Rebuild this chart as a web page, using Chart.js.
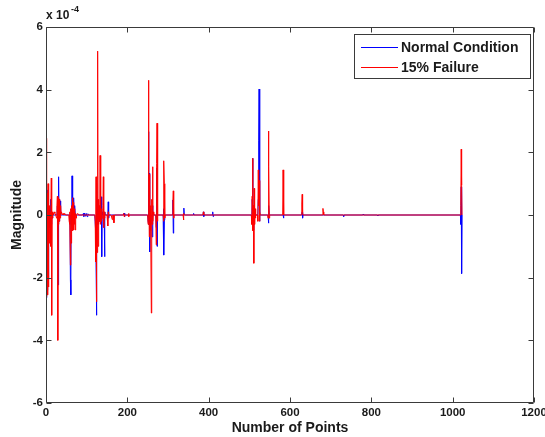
<!DOCTYPE html>
<html>
<head>
<meta charset="utf-8">
<script src="https://cdn.jsdelivr.net/npm/chart.js@4.4.1/dist/chart.umd.min.js"></script>
<style>
  html, body { margin: 0; padding: 0; background: #fff; }
  #wrap { width: 545px; height: 437px; }
</style>
</head>
<body>
<div id="wrap"><canvas id="c" width="545" height="437"></canvas></div>
<script>
// Values in units of 1e-4 (axis multiplier "x 10^-4")
const xTicks = [0, 200, 400, 600, 800, 1000, 1200];
const yTicks = [-6, -4, -2, 0, 2, 4, 6];
const seriesNames = ['Normal Condition', '15% Failure'];
const seriesColors = ['#0000ff', '#ff0000'];

// Normal Condition (blue): sample index / magnitude
const normalX = [0,1,2,3,4,5,6,7,8,9,10,11,12,13,14,15,16,17,
  27,28,29,30,31,32,33,34,35,36,40,
  58,59,60,61,62,63,64,65,66,67,68,69,70,71,72,
  90,92,93,95,97,99,101,103,105,
  120,122,123,124,125,126,127,128,130,131,132,135,136,137,138,139,143,144,145,146,152,153,154,155,
  190,192,193,194,
  250,251,252,253,254,255,256,257,258,260,261,262,263,270,271,272,273,274,
  288,289,290,291,292,311,312,313,314,338,339,340,362,363,364,386,387,388,389,409,410,411,412,
  505,506,507,508,509,510,511,512,521,522,523,524,525,526,546,547,548,549,
  583,584,585,629,630,631,632,731,732,733,779,780,781,815,816,817,
  1019,1020,1021,1022,1023];
const normalY = [-1.85,-2.65,0.5,-2.4,0.8,-2.0,0.3,-0.6,0.2,-0.4,0.1,-0.8,0.5,-0.3,0.1,-0.1,0.05,0,
  0,0.3,-0.5,-2.23,1.22,-0.2,0.5,-0.1,0.45,0,0,
  0,-0.3,-2.07,-2.55,0.2,-0.3,1.25,-0.2,0.55,-0.1,0.55,0,-0.1,0.3,0,
  0,0.05,-0.05,0.06,-0.04,0.05,-0.05,0.04,0,
  0,-0.5,-1.5,-3.2,1.0,-0.3,0.5,0,0,0.2,-0.2,0,0.58,-1.33,0.1,0,0,-1.33,0.1,0,0,0.42,-0.1,0,
  0,0.06,-0.06,0,
  0,-0.2,2.66,-0.3,1.33,-1.18,0.2,-0.3,0,0,-0.7,0.3,0,0,-0.4,1.5,-1.0,0,
  0,0.2,-1.28,-0.16,0,0,0.48,-0.58,0,0,0.22,0,0,0.05,0,0,0.1,-0.05,0,0,0.1,-0.05,0,
  0,-0.2,0.5,1.81,0.16,-0.48,0.3,0,0,0.5,2.39,4.02,-0.2,0,0,-0.26,0.3,0,
  0,-0.1,0,0,0.1,-0.1,0,0,-0.05,0,0,0.03,0,0,-0.03,0,
  0,-0.3,0.9,-1.87,0];

// 15% Failure (red): sample index / magnitude
const failX = [0,1,2,3,4,5,6,7,8,9,10,11,12,13,14,15,16,17,18,20,22,24,26,27,28,29,30,31,32,33,34,35,36,37,38,40,42,44,46,48,
  56,57,58,59,60,61,62,63,64,65,66,67,68,69,70,71,72,73,74,75,78,80,
  120,121,122,123,124,125,126,127,128,129,130,131,132,133,134,135,136,137,138,140,141,142,143,144,145,150,152,153,154,160,163,164,166,167,168,
  190,191,192,193,202,203,204,205,
  250,251,252,253,254,255,256,257,258,259,260,261,262,263,264,265,270,271,272,273,274,275,
  288,289,290,291,292,293,311,312,313,314,315,337,338,339,340,386,387,388,
  505,506,507,508,509,510,511,512,513,514,515,516,520,521,522,523,524,525,526,527,
  545,546,547,548,549,550,582,583,584,585,628,629,630,631,632,680,681,682,683,
  1019,1020,1021,1022,1023];
const failY = [0,2.45,-2.6,0.7,-2.55,1.0,-2.3,0.35,-0.9,0.3,-0.5,0.1,-1.0,1.18,-3.2,0.1,-0.1,0.08,0,0.1,0.05,0,-0.1,0.3,0.6,-4.0,0.55,-0.3,0.5,-0.2,0.4,-0.1,0.3,0.05,0.1,0,0.05,0,0.05,0,
  0,-0.2,0.1,-0.3,-1.6,0.2,-0.9,0.3,-0.4,0.55,-0.5,0.4,-0.48,0.2,-0.3,0.15,-0.48,0.05,-0.1,0,0.05,0,
  0,-0.2,-1.5,1.22,-2.77,0.5,-1.2,5.23,-1.0,0.5,-0.3,0.3,-0.2,1.9,-0.3,0.1,-0.2,0.2,-0.1,0.3,1.22,-0.4,0.1,-0.1,0,0,-0.35,0.1,0,0,-0.15,0,0,-0.25,0,
  0,0.05,-0.05,0,0,0.05,-0.05,0,
  0,-0.3,4.3,1.3,-0.7,1.3,-0.4,0.3,-0.5,-3.13,0.5,-0.3,1.54,-0.2,0.1,0,0,-0.95,1.65,2.93,-0.2,0,
  0,-0.2,1.73,1.0,-0.1,0,0,0.4,0.77,-0.1,0,0,-0.16,0.05,0,0,0.1,0,
  0,-0.3,0.6,1.81,-0.5,0.3,-1.54,0.85,-0.3,0.2,-0.1,0,0,-0.2,1.44,0.3,1.1,-0.2,0.1,0,
  0,-0.1,2.68,1.55,-0.1,0,0,1.44,0.9,0,0,0.35,0.66,0.1,0,0,0.21,0.1,0,
  0,0.3,2.1,0.95,0];

const toPts = (xs, ys) => xs.map((x, i) => ({x: x, y: ys[i]}));

const FONT = "'Liberation Sans', Arial, sans-serif";
const INK = '#1a1a1a';
const AXIS = '#3a3a3a';

const framePlugin = {
  id: 'matlabFrame',
  afterDraw(chart) {
    const {ctx, chartArea: a, scales: {x, y}} = chart;
    ctx.save();
    ctx.strokeStyle = AXIS;
    ctx.lineWidth = 1;
    const L = Math.round(a.left) + 0.5, R = Math.round(a.right) - 0.5;
    const T = Math.round(a.top) + 0.5, B = Math.round(a.bottom) - 0.5;
    ctx.beginPath();
    ctx.rect(L, T, R - L, B - T);
    const tl = 5;
    xTicks.forEach(v => {
      const p = Math.round(x.getPixelForValue(v)) + 0.5;
      ctx.moveTo(p, B); ctx.lineTo(p, B - tl);
      ctx.moveTo(p, T); ctx.lineTo(p, T + tl);
    });
    yTicks.forEach(v => {
      const p = Math.round(y.getPixelForValue(v)) + 0.5;
      ctx.moveTo(L, p); ctx.lineTo(L + tl, p);
      ctx.moveTo(R, p); ctx.lineTo(R - tl, p);
    });
    ctx.stroke();

    // exponent label
    ctx.fillStyle = INK;
    ctx.textBaseline = 'middle';
    ctx.textAlign = 'left';
    ctx.font = 'bold 12px ' + FONT;
    ctx.fillText('x 10', 46, 16);
    ctx.font = 'bold 9px ' + FONT;
    ctx.fillText('-4', 71, 10);

    // legend
    const lx = 354.5, ly = 34.5, lw = 176, lh = 44;
    ctx.fillStyle = '#fff';
    ctx.fillRect(lx, ly, lw, lh);
    ctx.strokeStyle = AXIS;
    ctx.strokeRect(lx, ly, lw, lh);
    const rowY = [47, 67];
    for (let i = 0; i < 2; i++) {
      ctx.fillStyle = seriesColors[i];
      ctx.fillRect(361, rowY[i], 37, 1);
      ctx.fillStyle = INK;
      ctx.font = 'bold 14px ' + FONT;
      ctx.textBaseline = 'middle';
      ctx.textAlign = 'left';
      ctx.fillText(seriesNames[i], 401, rowY[i] + 1);
    }
    ctx.restore();
  }
};

new Chart(document.getElementById('c'), {
  type: 'line',
  data: {
    datasets: [
      { label: seriesNames[1], data: toPts(failX, failY), borderColor: seriesColors[1], borderWidth: 1, pointRadius: 0, tension: 0, fill: false, order: 0 },
      { label: seriesNames[0], data: toPts(normalX, normalY), borderColor: seriesColors[0], borderWidth: 1, pointRadius: 0, tension: 0, fill: false, order: 1 }
    ]
  },
  options: {
    responsive: false,
    animation: false,
    events: [],
    layout: { padding: { top: 27, right: 11, left: 0, bottom: 0 } },
    plugins: { legend: { display: false }, tooltip: { enabled: false } },
    scales: {
      x: {
        type: 'linear', min: 0, max: 1200,
        afterBuildTicks(s) { s.ticks = xTicks.map(v => ({value: v})); },
        afterFit(s) { s.height = 34; s.paddingLeft = 0; s.paddingRight = 0; },
        grid: { display: false, drawTicks: false },
        border: { display: false },
        ticks: { color: INK, font: { family: FONT, size: 11.5, weight: 'bold' }, padding: 3, maxRotation: 0, autoSkip: false, callback: v => String(v) },
        title: { display: true, text: 'Number of Points', color: INK, font: { family: FONT, size: 14, weight: 'bold' }, padding: { top: 0, bottom: 0 } }
      },
      y: {
        type: 'linear', min: -6, max: 6,
        afterBuildTicks(s) { s.ticks = yTicks.map(v => ({value: v})); },
        afterFit(s) { s.width = 46; s.paddingTop = 0; s.paddingBottom = 0; },
        grid: { display: false, drawTicks: false },
        border: { display: false },
        ticks: { color: INK, font: { family: FONT, size: 11.5, weight: 'bold' }, padding: 3, autoSkip: false, callback: v => String(v) },
        title: { display: true, text: 'Magnitude', color: INK, font: { family: FONT, size: 14, weight: 'bold' }, padding: { top: 9, bottom: 0 } }
      }
    }
  },
  plugins: [framePlugin]
});
</script>
</body>
</html>
